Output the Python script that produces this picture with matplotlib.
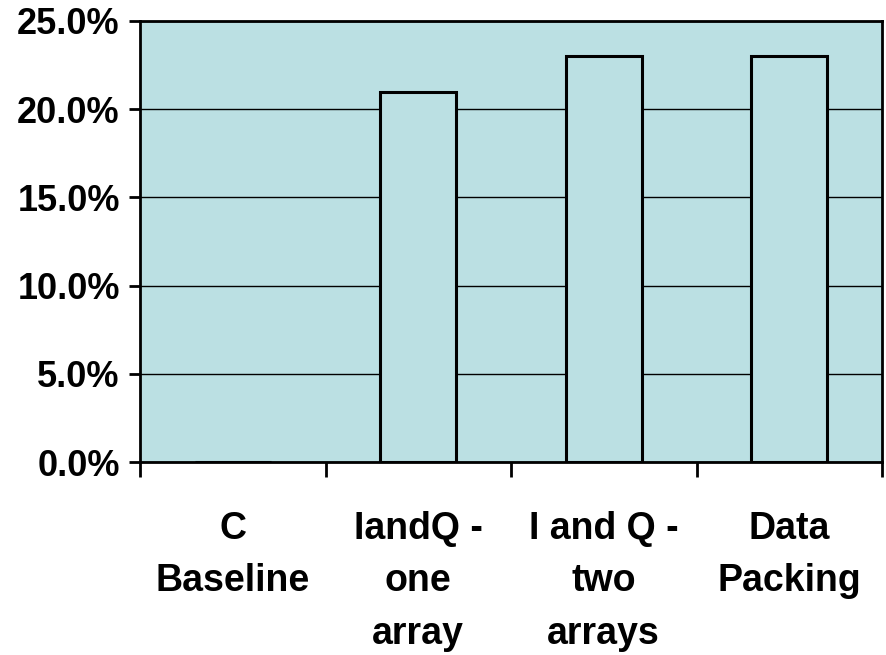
#!/usr/bin/env python3
"""
Bar chart: speedup of each variant over the C baseline
"""

import matplotlib
matplotlib.use('Agg')
import matplotlib.pyplot as plt
from matplotlib.ticker import FuncFormatter
import numpy as np

categories = ['C\nBaseline', 'IandQ -\none\narray', 'I and Q -\ntwo\narrays', 'Data\nPacking']
values = [0.0, 21.0, 23.0, 23.0]  # percent
yticks = [0, 5, 10, 15, 20, 25]

plt.rcParams['font.family'] = ['Liberation Sans', 'DejaVu Sans']
plt.rcParams['font.weight'] = 'bold'

fill = '#bbe0e3'

fig = plt.figure(figsize=(8.87, 6.55), dpi=100)
ax = fig.add_axes([140/887, 1 - 462/655, (882-140)/887, (462-21)/655])
ax.set_facecolor(fill)

x = np.arange(len(categories))
ax.bar(x, values, width=0.41, color=fill, edgecolor='black', linewidth=2.2, zorder=3)

ax.set_xlim(-0.5, len(categories) - 0.5)
ax.set_ylim(0, 25)
ax.set_yticks(yticks)
ax.yaxis.set_major_formatter(FuncFormatter(lambda v, p: f'{v:.1f}%'))
ax.yaxis.grid(True, color='black', linewidth=1.0, zorder=1)
ax.set_axisbelow(True)

ax.set_xticks(x)
ax.set_xticklabels(categories, linespacing=1.6)
ax.set_xticks(np.arange(len(categories) + 1) - 0.5, minor=True)
ax.tick_params(axis='x', which='major', length=0, pad=35, labelsize=27)
ax.tick_params(axis='x', which='minor', length=11, width=2, color='black')
ax.tick_params(axis='y', length=8, width=2, pad=6.5, labelsize=26)

for s in ax.spines.values():
    s.set_linewidth(2)
    s.set_color('black')

plt.savefig('out.png', dpi=100)
plt.close('all')
